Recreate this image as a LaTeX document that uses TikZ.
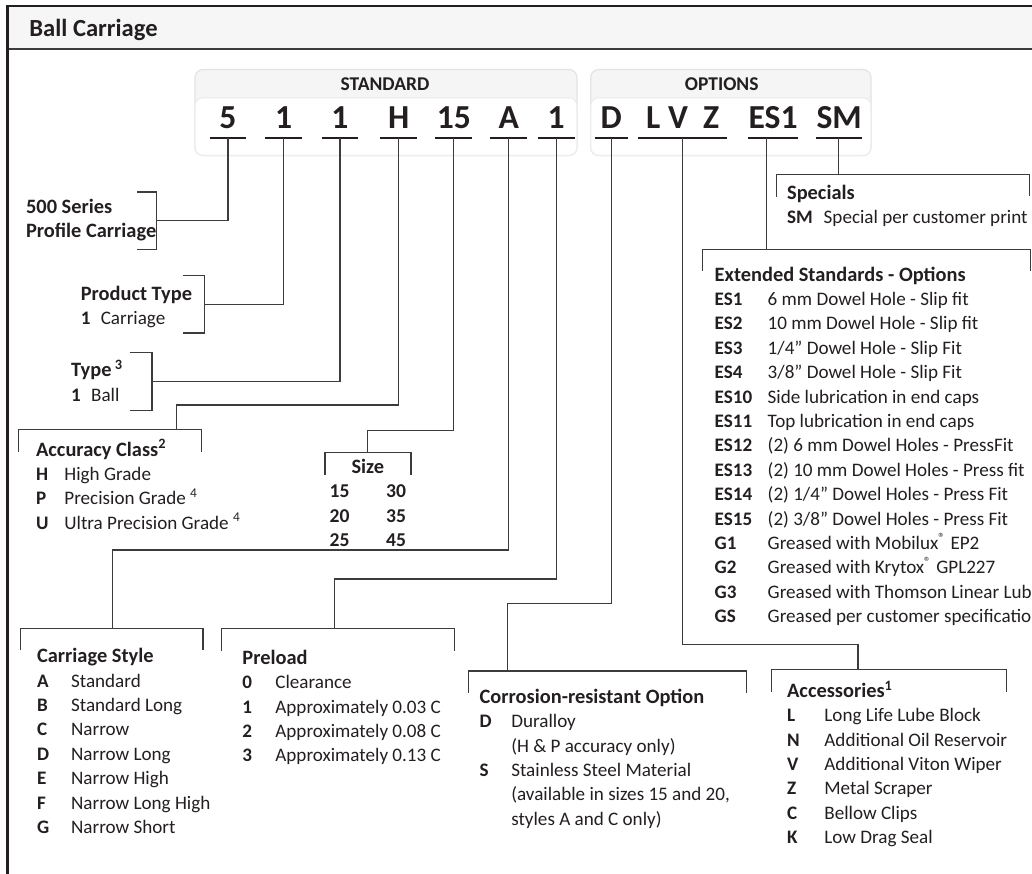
\documentclass[tikz,border=0pt]{standalone}
\usepackage{fontspec}
\setmainfont{Carlito}
\usepackage{array}
\definecolor{ink}{HTML}{231F20}
\definecolor{rule}{HTML}{3C3C3C}
\newcommand{\hdfont}{\fontsize{10.2}{12.2}\selectfont\bfseries}
\tikzset{
    conn/.style={draw=rule, line width=0.65pt},
    brack/.style={draw=rule, line width=0.65pt},
    uline/.style={draw=ink, line width=1pt},
    code/.style={font=\fontsize{16.8}{20}\selectfont\bfseries, text=ink, inner sep=0, anchor=south, text depth=4.2pt},
    tbl/.style={anchor=base west, inner sep=0, text=ink, font=\fontsize{9.55}{12.2}\selectfont},
    hdrbox/.style={draw=gray!22, fill=gray!8, rounded corners=4pt, line width=0.6pt},
    innerbox/.style={draw=gray!15, fill=white, rounded corners=4pt, line width=0.6pt},
    boxlabel/.style={anchor=base, inner sep=0, text=ink, font=\fontsize{9.75}{12}\selectfont\bfseries},
}
\usetikzlibrary{calc}

\begin{document}
\begin{tikzpicture}[x=0.5pt,y=-0.5pt]
    \useasboundingbox (0,0) rectangle (1032,873);
    \clip (0,0) rectangle (1032,873);
    % frame and title band
    \fill[gray!7] (7,6) rectangle (1040,49);
    \draw[rule, line width=0.6pt] (7,49) -- (1040,49);
    \draw[ink, line width=1.2pt] (7.3,900) -- (7.3,6) -- (1040,6);
    \node[anchor=base west, inner sep=0, text=ink, font=\fontsize{12.3}{14}\selectfont\bfseries] (title) at (29,36) {Ball Carriage};

    % code boxes
    \draw[hdrbox] (195,69.5) rectangle (577,155.5);
    \draw[innerbox] (195,97.7) rectangle (577,155.5);
    \draw[hdrbox] (590.7,69.5) rectangle (871,155.5);
    \draw[innerbox] (590.7,97.7) rectangle (871,155.5);
    \node[boxlabel] (std) at (385,90) {STANDARD};
    \node[boxlabel] (opt) at (721.7,90) {OPTIONS};

    \node[code, minimum width=18pt] (c5) at (228,137.7) {5};
    \node[code, minimum width=18pt] (c1a) at (283.7,137.7) {1};
    \node[code, minimum width=18pt] (c1b) at (340,137.7) {1};
    \node[code, minimum width=18pt] (cH) at (398.8,137.7) {H};
    \node[code, minimum width=18pt] (c15) at (453.8,137.7) {15};
    \node[code, minimum width=18pt] (cA) at (508.8,137.7) {A};
    \node[code, minimum width=18pt] (c1c) at (556.2,137.7) {1};
    \node[code, minimum width=16.3pt] (cD) at (611.3,137.7) {D};
    \node[code, minimum width=44pt] (cLVZ) at (682.7,137.7) {L V\ \ Z};
    \node[code, minimum width=24.7pt] (cES) at (773,137.7) {ES1};
    \node[code, minimum width=22.5pt] (cSM) at (839.2,137.7) {SM};
    \draw[uline] (c5.south west) -- (c5.south east);
    \draw[uline] (c1a.south west) -- (c1a.south east);
    \draw[uline] (c1b.south west) -- (c1b.south east);
    \draw[uline] (cH.south west) -- (cH.south east);
    \draw[uline] (c15.south west) -- (c15.south east);
    \draw[uline] (cA.south west) -- (cA.south east);
    \draw[uline] (c1c.south west) -- (c1c.south east);
    \draw[uline] (cD.south west) -- (cD.south east);
    \draw[uline] (cLVZ.south west) -- (cLVZ.south east);
    \draw[uline] (cES.south west) -- (cES.south east);
    \draw[uline] (cSM.south west) -- (cSM.south east);

    % left column
    \node[tbl, font=\hdfont] (series) at (25.7,213.3) {\begin{tabular}[t]{@{}l@{}}500 Series\\Profile Carriage\end{tabular}};
    \draw[brack] (137,192) -| (156.3,249.7) -- (137,249.7);
    \coordinate (serT) at (156.3,220.7);
    \draw[conn] (c5.south) |- (serT);

    \node[tbl] (prod) at (80.4,300) {\begin{tabular}[t]{@{}>{\bfseries}p{10pt}@{}l@{}}
        \multicolumn{2}{@{}l@{}}{\hdfont Product Type}\\
        1 & Carriage\end{tabular}};
    \draw[brack] (182.5,275.3) -| (204.7,333) -- (182.5,333);
    \coordinate (prodT) at (204.7,304.3);
    \draw[conn] (c1a.south) |- (prodT);

    \node[tbl] (type) at (70.8,376.7) {\begin{tabular}[t]{@{}>{\bfseries}p{10pt}@{}l@{}}
        \multicolumn{2}{@{}l@{}}{\hdfont Type\,\textsuperscript{3}}\\
        1 & Ball\end{tabular}};
    \draw[brack] (129.7,352.7) -| (152,410.3) -- (129.7,410.3);
    \coordinate (typT) at (152,381.7);
    \draw[conn] (c1b.south) |- (typT);

    \node[tbl] (acc) at (35.7,456) {\begin{tabular}[t]{@{}>{\bfseries}p{14.15pt}@{}l@{}}
        \multicolumn{2}{@{}l@{}}{\hdfont Accuracy Class\textsuperscript{2}}\\
        H & High Grade\\
        P & Precision Grade \textsuperscript{4}\\
        U & Ultra Precision Grade \textsuperscript{4}\end{tabular}};
    \draw[brack] (18.5,451.5) |- (201.3,429.3) -- (201.3,451.5);
    \coordinate (accB) at (176.8,405);
    \coordinate (accT) at (176.8,429.3);
    \draw[conn] (cH.south) |- (accB) -- (accT);

    \node[tbl, font=\fontsize{9.8}{12.2}\selectfont\bfseries] (size) at (329.3,473.3) {\begin{tabular}[t]{@{}p{28.2pt}@{}l@{}}
        \multicolumn{2}{@{}c@{}}{\hdfont Size}\\
        15 & 30\\
        20 & 35\\
        25 & 45\end{tabular}};
    \draw[brack] (325,475) |- (411,452.7) -- (411,475);
    \coordinate (sizB) at (367.3,430.5);
    \coordinate (sizT) at (367.3,452.7);
    \draw[conn] (c15.south) |- (sizB) -- (sizT);

    % bottom row
    \node[tbl] (style) at (36.7,662.7) {\begin{tabular}[t]{@{}>{\bfseries}p{17pt}@{}l@{}}
        \multicolumn{2}{@{}l@{}}{\hdfont Carriage Style}\\
        A & Standard\\
        B & Standard Long\\
        C & Narrow\\
        D & Narrow Long\\
        E & Narrow High\\
        F & Narrow Long High\\
        G & Narrow Short\end{tabular}};
    \draw[brack] (20.7,650) |- (203,628.3) -- (203,650);
    \coordinate (carB) at (112.3,550);
    \coordinate (carT) at (112.3,628.3);
    \draw[conn] (cA.south) |- (carB) -- (carT);

    \node[tbl] (pre) at (242,664.3) {\begin{tabular}[t]{@{}>{\bfseries}p{16.5pt}@{}l@{}}
        \multicolumn{2}{@{}l@{}}{\hdfont Preload}\\
        0 & Clearance\\
        1 & Approximately 0.03 C\\
        2 & Approximately 0.08 C\\
        3 & Approximately 0.13 C\end{tabular}};
    \draw[brack] (221.7,650.5) |- (454.5,628.7) -- (454.5,650.5);
    \coordinate (preB) at (334.3,579);
    \coordinate (preT) at (334.3,628.7);
    \draw[conn] (c1c.south) |- (preB) -- (preT);

    \node[tbl] (cor) at (479.3,703.3) {\begin{tabular}[t]{@{}>{\bfseries}p{15.8pt}@{}l@{}}
        \multicolumn{2}{@{}l@{}}{\hdfont Corrosion-resistant Option}\\
        D & Duralloy\\
          & (H \& P accuracy only)\\
        S & Stainless Steel Material\\
          & (available in sizes 15 and 20,\\
          & styles A and C only)\end{tabular}};
    \draw[brack] (468.5,692.7) |- (746.7,671) -- (746.7,692.7);
    \coordinate (corB) at (507.3,603.3);
    \coordinate (corT) at (507.3,671);
    \draw[conn] (cD.south) |- (corB) -- (corT);

    \node[tbl] (acs) at (786.7,697.3) {\begin{tabular}[t]{@{}>{\bfseries}p{18.65pt}@{}l@{}}
        \multicolumn{2}{@{}l@{}}{\hdfont Accessories\textsuperscript{1}}\\
        L & Long Life Lube Block\\
        N & Additional Oil Reservoir\\
        V & Additional Viton Wiper\\
        Z & Metal Scraper\\
        C & Bellow Clips\\
        K & Low Drag Seal\end{tabular}};
    \draw[brack] (771.7,691.7) |- (1006.7,669.3) -- (1006.7,691.7);
    \coordinate (acsB) at (858,644.5);
    \coordinate (acsT) at (858,669.3);
    \draw[conn] (cLVZ.south) |- (acsB) -- (acsT);

    % right column
    \node[tbl] (ext) at (714.3,281) {\begin{tabular}[t]{@{}>{\bfseries}p{26.5pt}@{}l@{}}
        \multicolumn{2}{@{}l@{}}{\hdfont Extended Standards - Options}\\
        ES1 & 6 mm Dowel Hole - Slip fit\\
        ES2 & 10 mm Dowel Hole - Slip fit\\
        ES3 & 1/4” Dowel Hole - Slip Fit\\
        ES4 & 3/8” Dowel Hole - Slip Fit\\
        ES10 & Side lubrication in end caps\\
        ES11 & Top lubrication in end caps\\
        ES12 & (2) 6 mm Dowel Holes - PressFit\\
        ES13 & (2) 10 mm Dowel Holes - Press fit\\
        ES14 & (2) 1/4” Dowel Holes - Press Fit\\
        ES15 & (2) 3/8” Dowel Holes - Press Fit\\
        G1 & Greased with Mobilux\textsuperscript{®} EP2\\
        G2 & Greased with Krytox\textsuperscript{®} GPL227\\
        G3 & Greased with Thomson Linear Lube\\
        GS & Greased per customer specification\end{tabular}};
    \draw[brack] (702.7,271) |- (1030.7,249.3) -- (1030.7,271);
    \coordinate (extT) at (766.7,249.3);
    \draw[conn] (extT |- cES.south) -- (extT);

    \node[tbl] (spc) at (786.7,199) {\begin{tabular}[t]{@{}>{\bfseries}p{18.3pt}@{}l@{}}
        \multicolumn{2}{@{}l@{}}{\hdfont Specials}\\
        SM & Special per customer print\end{tabular}};
    \draw[brack] (776.7,196.5) |- (1029.3,174.3) -- (1029.3,196);
    \coordinate (spT) at (838.3,174.3);
    \draw[conn] (spT |- cSM.south) -- (spT);
\end{tikzpicture}
\end{document}
